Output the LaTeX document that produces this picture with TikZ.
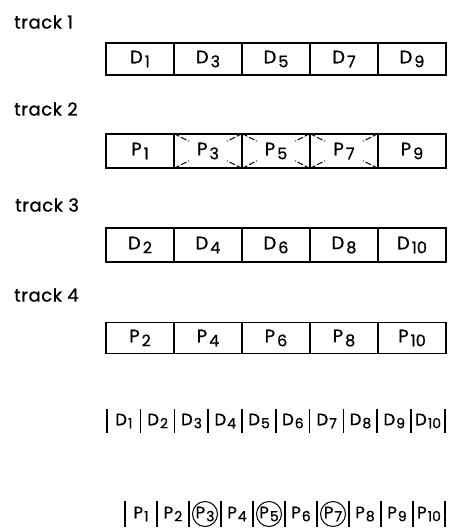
\documentclass[tikz,border=0pt]{standalone}
\usepackage{fontspec}
\setmainfont{Poppins}[FakeBold=0.8]
\usetikzlibrary{calc}
\newcommand\lowidx[1]{\kern2pt\raisebox{-4pt}{\fontsize{16}{16}\selectfont #1}}
\newcommand\lowidxs[1]{\kern1pt\raisebox{-3pt}{\fontsize{14}{14}\selectfont #1}}
\begin{document}
\begin{tikzpicture}[x=1pt,y=-1pt,
  cell/.style={draw, line width=1.6pt, minimum width=68pt, minimum height=32pt, inner sep=0pt, font=\fontsize{18}{18}\selectfont},
  lbl/.style={anchor=west, inner sep=0pt, font=\fontsize{18}{18}\selectfont\addfontfeatures{LetterSpace=3}},
  slot/.style={minimum height=23pt, inner sep=0pt, font=\fontsize{16.5}{16.5}\selectfont},
  bar/.style={line width=1.6pt},
  xmark/.style={line width=1pt, dash pattern=on 6pt off 2pt},
  ring/.style={draw, circle, line width=1pt, minimum size=25pt, inner sep=0pt}]
\useasboundingbox (0,0) rectangle (462,532);
% labels
\node[lbl] (l1) at (14,22) {track 1};
\node[lbl] (l2) at (14,109) {track 2};
\node[lbl] (l3) at (15,205) {track 3};
\node[lbl] (l4) at (14,295) {track 4};
% track rows
\foreach \k/\t in {1/1,2/3,3/5,4/7,5/9}
  \node[cell] (a\k) at ({106+34+68*(\k-1)},59) {D\lowidx{\t}};
\foreach \k/\t in {1/1,2/3,3/5,4/7,5/9}
  \node[cell, minimum height=34pt] (b\k) at ({106+34+68*(\k-1)},151) {P\lowidx{\t}};
\foreach \k/\t in {1/2,2/4,3/6,4/8,5/10}
  \node[cell, minimum height=34pt] (c\k) at ({106+34+68*(\k-1)},245) {D\lowidx{\t}};
\foreach \k/\t in {1/2,2/4,3/6,4/8,5/10}
  \node[cell, minimum height=31pt] (e\k) at ({106+34+68*(\k-1)},338) {P\lowidx{\t}};
% dashed crosses
\foreach \k in {2,3,4}{
  \foreach \c in {north west,north east,south west,south east}
    \draw[xmark] ($(b\k.\c)!0.02!(b\k.center)$) -- ($(b\k.\c)!0.45!(b\k.center)$);
}
% interleaved data
\foreach \k in {1,...,10}
  \node[slot, minimum width=33.8pt] (d\k) at ({107+16.9+33.8*(\k-1)},421) {D\lowidxs{\k}};
\foreach \k in {1,...,10}
  \draw[bar] (d\k.north west) -- (d\k.south west);
\draw[bar] (d10.north east) -- (d10.south east);
% interleaved parity
\foreach \k in {1,...,10}
  \node[slot, minimum width=32pt, minimum height=26pt] (p\k) at ({125+16+32*(\k-1)},514) {P\lowidxs{\k}};
\foreach \k in {1,...,10}
  \draw[bar] (p\k.north west) -- (p\k.south west);
\draw[bar] (p10.north east) -- (p10.south east);
\foreach \k in {3,5,7}
  \node[ring] (r\k) at (p\k.center) {};
\end{tikzpicture}
\end{document}
